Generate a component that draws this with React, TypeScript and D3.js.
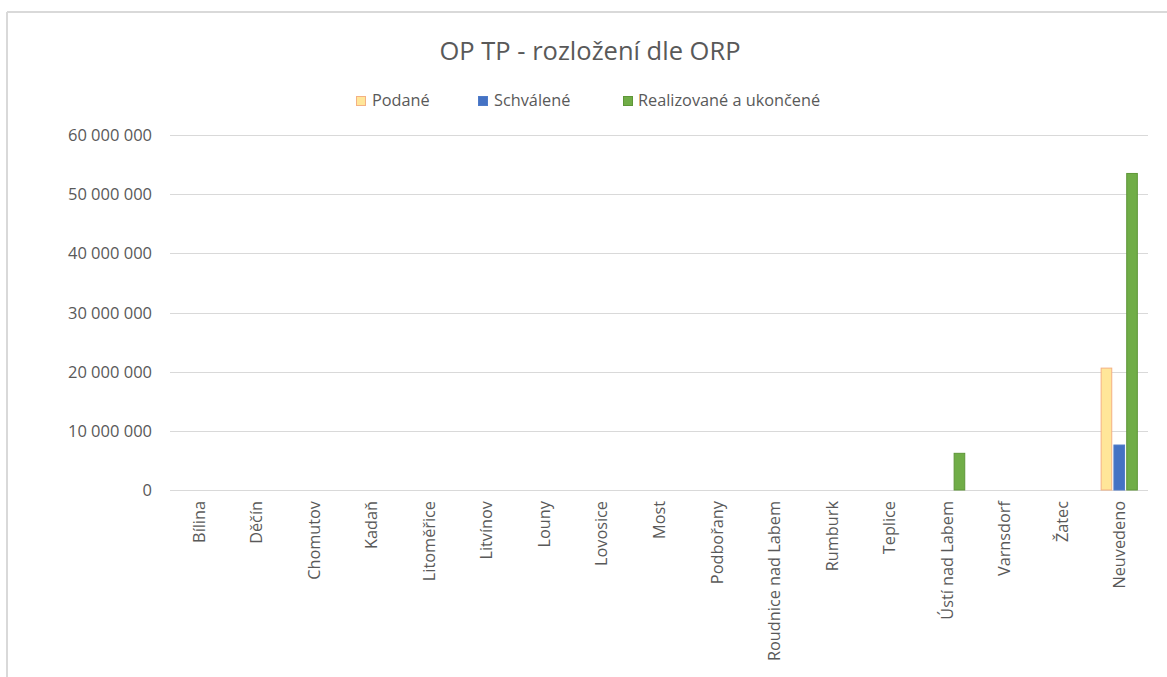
import React from "react";
import * as d3 from "d3";

const categories = [
  "Bílina", "Děčín", "Chomutov", "Kadaň", "Litoměřice", "Litvínov", "Louny", "Lovosice", "Most",
  "Podbořany", "Roudnice nad Labem", "Rumburk", "Teplice", "Ústí nad Labem", "Varnsdorf", "Žatec", "Neuvedeno",
];
const seriesNames = ["Podané", "Schválené", "Realizované a ukončené"];
const podane = [0, 0, 0, 0, 0, 0, 0, 0, 0, 0, 0, 0, 0, 0, 0, 0, 20600000];
const schvalene = [0, 0, 0, 0, 0, 0, 0, 0, 0, 0, 0, 0, 0, 0, 0, 0, 7600000];
const realizovane = [0, 0, 0, 0, 0, 0, 0, 0, 0, 0, 0, 0, 0, 6200000, 0, 0, 53500000];
const yTicks = [0, 10000000, 20000000, 30000000, 40000000, 50000000, 60000000];

const fills = ["#FFE699", "#4472C4", "#70AD47"];
const strokes = ["#F4B183", "#4F7BC8", "#5E9638"];

const W = 1167;
const H = 677;
const FONT = "'Open Sans', 'Noto Sans', sans-serif";

export default function App() {
  const plotL = 170, plotR = 1148, plotT = 135, plotB = 490;
  const x = d3.scaleBand<string>().domain(categories).range([plotL, plotR]).padding(0);
  const inner = d3.scaleBand<string>().domain(seriesNames).range([-18.1, 18.1]).paddingInner(0.17).paddingOuter(0);
  const y = d3.scaleLinear().domain([0, 60000000]).range([plotB, plotT]);
  const loc = d3.formatLocale({ decimal: ",", thousands: "\u00a0", grouping: [3], currency: ["", ""] });
  const fmt = loc.format(",d");
  const data = [podane, schvalene, realizovane];

  const legendItems = [
    { name: seriesNames[0], sx: 356, tx: 372 },
    { name: seriesNames[1], sx: 478, tx: 494 },
    { name: seriesNames[2], sx: 623, tx: 638 },
  ];

  return (
    <svg width={W} height={H} style={{ position: "absolute", left: 0, top: 0, background: "#fff" }} fontFamily={FONT}>
      <rect x={0} y={0} width={W} height={H} fill="#fff" />
      <line x1={7} y1={12} x2={W} y2={12} stroke="#d9d9d9" strokeWidth={2} />
      <line x1={7} y1={12} x2={7} y2={H} stroke="#d9d9d9" strokeWidth={2} />
      <text x={590} y={60} textAnchor="middle" fontSize={25.5} fill="#595959">OP TP - rozložení dle ORP</text>
      {legendItems.map((it, i) => (
        <g key={it.name}>
          <rect x={it.sx + 0.5} y={96.5} width={9} height={9} fill={fills[i]} stroke={strokes[i]} strokeWidth={1} />
          <text x={it.tx} y={106} fontSize={16.3} fill="#595959">{it.name}</text>
        </g>
      ))}
      {yTicks.map((t) => (
        <g key={t}>
          <line x1={plotL} x2={plotR} y1={Math.round(y(t)) + 0.5} y2={Math.round(y(t)) + 0.5} stroke="#d9d9d9" strokeWidth={1} />
          <text x={152} y={y(t) + 6} textAnchor="end" fontSize={16.5} fill="#595959">{fmt(t)}</text>
        </g>
      ))}
      {data.map((vals, si) =>
        vals.map((v, ci) => {
          if (v <= 0) return null;
          const cx = (x(categories[ci]) as number) + x.bandwidth() / 2;
          const bx = cx + (inner(seriesNames[si]) as number);
          return (
            <rect key={`${si}-${ci}`} x={bx} y={y(v)} width={inner.bandwidth()} height={plotB - y(v)}
              fill={fills[si]} stroke={strokes[si]} strokeWidth={1} />
          );
        })
      )}
      {categories.map((c) => {
        const cx = (x(c) as number) + x.bandwidth() / 2;
        return (
          <text key={c} transform={`translate(${cx + 6},${501}) rotate(-90)`} textAnchor="end" fontSize={16.3} fill="#595959">{c}</text>
        );
      })}
    </svg>
  );
}
